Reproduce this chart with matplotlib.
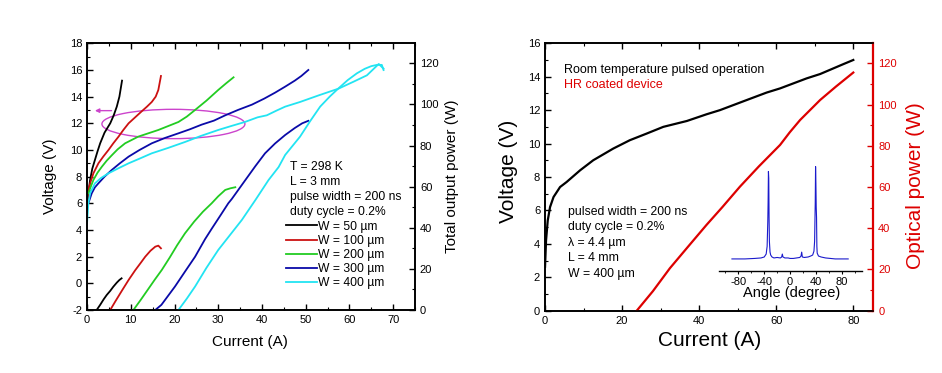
import matplotlib
matplotlib.use('Agg')
import matplotlib.pyplot as plt
from matplotlib.patches import Ellipse
from matplotlib.ticker import MultipleLocator

plt.rcParams['font.family'] = ['Liberation Sans', 'DejaVu Sans']
plt.rcParams['axes.unicode_minus'] = False

# ---------------- Left panel data ----------------
legend_labels = ['W = 50 µm', 'W = 100 µm', 'W = 200 µm', 'W = 300 µm', 'W = 400 µm']
colors = ['#000000', '#cc1111', '#22cc22', '#0a0aa8', '#22e4f2']

v50_i = [0.15, 0.4, 0.7, 1.2, 1.8, 2.4, 3.0, 4.0, 5.3, 6.1, 6.8, 7.4, 8.0]
v50_v = [6.0, 7.0, 7.75, 8.6, 9.25, 9.9, 10.5, 11.3, 12.0, 12.6, 13.25, 14.0, 15.2]
p50_i = [2.2, 3.0, 3.8, 4.5, 5.3, 6.0, 6.8, 7.4, 7.9]
p50_p = [0.0, 2.5, 5.2, 7.3, 9.3, 11.3, 13.3, 14.6, 15.4]

v100_i = [0.0, 0.3, 0.8, 1.45, 2.6, 3.7, 4.9, 6.0, 7.2, 8.3, 9.5, 11.0, 12.5, 13.7, 14.8, 15.7, 16.3, 16.9]
v100_v = [6.0, 7.0, 7.6, 8.25, 9.0, 9.5, 10.0, 10.5, 11.0, 11.5, 12.0, 12.45, 12.9, 13.25, 13.6, 14.0, 14.5, 15.55]
p100_i = [5.3, 6.5, 8.0, 9.5, 11.0, 12.3, 13.3, 14.5, 15.6, 16.3, 16.9]
p100_p = [0.0, 4.3, 9.5, 14.6, 19.3, 23.0, 25.9, 28.8, 30.8, 31.3, 30.0]

v200_i = [0.3, 0.8, 1.45, 2.4, 3.4, 4.5, 5.65, 7.0, 8.7, 10.2, 11.7, 14.0, 16.3, 18.6, 20.9, 22.8, 24.7, 27.3, 30.0, 31.8, 33.5]
v200_v = [6.75, 7.2, 7.75, 8.3, 8.75, 9.2, 9.6, 10.05, 10.5, 10.75, 11.0, 11.25, 11.5, 11.8, 12.1, 12.5, 13.0, 13.7, 14.5, 15.0, 15.45]
p200_i = [10.6, 12.3, 14.0, 15.5, 17.1, 18.9, 20.6, 22.4, 24.5, 26.5, 28.5, 30.0, 31.6, 32.8, 33.9]
p200_p = [0.0, 5.0, 10.2, 14.8, 19.5, 25.5, 31.5, 37.3, 43.0, 47.8, 51.9, 55.3, 58.4, 59.2, 59.7]

v300_i = [0.3, 1.07, 1.8, 2.6, 4.0, 5.65, 7.5, 9.5, 12.0, 14.8, 17.8, 20.9, 23.5, 26.2, 29.0, 31.6,
          34.5, 37.7, 40.5, 43.0, 45.3, 47.5, 49.0, 50.6]
v300_v = [6.0, 6.75, 7.2, 7.5, 8.0, 8.5, 9.0, 9.5, 10.0, 10.5, 10.9, 11.25, 11.55, 11.9, 12.2, 12.6,
          13.0, 13.4, 13.85, 14.3, 14.75, 15.2, 15.55, 16.0]
p300_i = [15.6, 17.0, 20.1, 22.5, 24.7, 27.0, 28.5, 30.5, 32.3, 33.1, 36.2, 38.5, 40.7, 43.0, 45.3, 47.5, 49.2, 50.6]
p300_p = [0.0, 2.5, 11.4, 19.0, 25.9, 34.5, 39.5, 46.0, 51.9, 54.0, 63.2, 70.0, 76.2, 81.0, 85.1, 88.5, 90.8, 92.0]

v400_i = [0.0, 0.3, 0.7, 1.2, 1.8, 3.2, 4.9, 7.0, 9.5, 12.0, 14.8, 18.5, 22.4, 26.0, 30.0, 33.0, 36.1,
          39.0, 41.1, 43.3, 45.3, 48.7, 53.0, 57.5, 60.8, 64.0, 66.7, 67.8]
v400_v = [4.5, 6.0, 6.75, 7.1, 7.5, 7.9, 8.25, 8.6, 9.0, 9.35, 9.75, 10.15, 10.6, 11.05, 11.5, 11.8, 12.1,
          12.45, 12.6, 12.95, 13.25, 13.6, 14.1, 14.6, 15.1, 15.6, 16.45, 16.1]
p400_i = [20.9, 22.8, 24.7, 27.3, 30.0, 32.7, 35.4, 38.5, 41.5, 43.8, 45.3, 48.7, 51.0, 53.3, 55.5, 57.5,
          59.6, 61.7, 63.5, 65.0, 66.3, 67.4, 67.8]
p400_p = [0.0, 5.5, 11.4, 20.5, 29.2, 36.5, 43.8, 53.5, 63.2, 69.5, 75.4, 84.3, 91.8, 98.9, 103.8, 107.8,
          111.8, 115.1, 117.3, 118.6, 119.2, 119.2, 116.7]

left_notes = ['T = 298 K', 'L = 3 mm', 'pulse width = 200 ns', 'duty cycle = 0.2%']

# ---------------- Right panel data ----------------
r_v_i = [0, 0.26, 0.7, 1.3, 2.2, 3.9, 5.6, 9.1, 12.5, 17.7, 22, 26.4, 30.7, 36.8, 41.9, 45.4, 52.3, 57.5,
         61.0, 67.9, 71.4, 77.4, 80]
r_v_v = [2.63, 4.2, 5.4, 6.2, 6.8, 7.4, 7.7, 8.4, 9.0, 9.7, 10.2, 10.6, 11.0, 11.35, 11.75, 12.0, 12.6, 13.05,
         13.3, 13.9, 14.16, 14.75, 15.0]
r_p_i = [23.8, 28.0, 32.4, 37.0, 41.9, 46.0, 50.6, 55.5, 61.0, 63.5, 66.2, 71.4, 75.5, 80.0]
r_p_p = [0.0, 9.5, 20.6, 30.8, 41.6, 50.2, 60.2, 70.0, 80.4, 86.5, 92.5, 102.2, 108.7, 115.5]

right_notes = ['pulsed width = 200 ns', 'duty cycle = 0.2%', 'λ = 4.4 µm', 'L = 4 mm', 'W = 400 µm']

# inset far-field profile
ang = [-90, -70, -55, -45, -40, -37, -35.5, -34.5, -34, -33.5, -33, -32.5, -32, -31, -30, -28, -25, -20, -15, -13,
       -12, -11, -8, -3, 0, 5, 10, 15, 17, 18, 19, 22, 28, 32, 35, 37, 38, 38.5, 39, 39.5,
       40, 40.5, 41, 41.5, 42, 44, 48, 55, 70, 90]
inten = [0.02, 0.02, 0.025, 0.03, 0.04, 0.07, 0.15, 0.40, 0.60, 0.92, 0.85, 0.45, 0.2, 0.09, 0.06, 0.04, 0.03, 0.035, 0.03, 0.04,
         0.07, 0.04, 0.03, 0.03, 0.025, 0.025, 0.03, 0.035, 0.05, 0.09, 0.04, 0.035, 0.04, 0.05, 0.06, 0.10, 0.20, 0.40, 0.60, 0.97,
         0.80, 0.55, 0.45, 0.15, 0.08, 0.05, 0.04, 0.03, 0.02, 0.02]

RED = '#dd0000'
TICK_FS = 8

fig = plt.figure(figsize=(9.42, 3.73), dpi=100)

def style_ticks(ax, **kw):
    ax.tick_params(which='both', direction='in', labelsize=TICK_FS, **kw)
    ax.tick_params(which='major', length=4, width=1)
    ax.tick_params(which='minor', length=2.2, width=0.8)

# ---------------- Left panel ----------------
axL = fig.add_axes([0.0924, 0.1689, 0.3482, 0.715])
axLp = axL.twinx()
v_sets = [(v50_i, v50_v), (v100_i, v100_v), (v200_i, v200_v), (v300_i, v300_v), (v400_i, v400_v)]
p_sets = [(p50_i, p50_p), (p100_i, p100_p), (p200_i, p200_p), (p300_i, p300_p), (p400_i, p400_p)]
handles = []
for (vi, vv), (pi, pp), c, lab in zip(v_sets, p_sets, colors, legend_labels):
    h, = axL.plot(vi, vv, color=c, lw=1.3, label=lab)
    axLp.plot(pi, pp, color=c, lw=1.3)
    handles.append(h)
axL.set_xlim(0, 75)
axL.set_ylim(-2, 18)
axLp.set_ylim(0, 129.7)
axL.xaxis.set_major_locator(MultipleLocator(10))
axL.xaxis.set_minor_locator(MultipleLocator(5))
axL.yaxis.set_major_locator(MultipleLocator(2))
axL.yaxis.set_minor_locator(MultipleLocator(1))
axLp.yaxis.set_major_locator(MultipleLocator(20))
axLp.yaxis.set_minor_locator(MultipleLocator(10))
style_ticks(axL, top=True)
style_ticks(axLp)
for a in (axL, axLp):
    for s in a.spines.values():
        s.set_linewidth(1.2)
axL.set_xlabel('Current (A)', fontsize=11, va='center')
axL.xaxis.set_label_coords(0.498, -0.119)
axL.set_ylabel('Voltage (V)', fontsize=11, va='center')
axL.yaxis.set_label_coords(-0.113, 0.5)
axLp.set_ylabel('Total output power (W)', fontsize=11, va='center')
axLp.yaxis.set_label_coords(1.112, 0.5)

axL.add_patch(Ellipse((19.75, 11.95), 32.7, 2.2, fill=False, edgecolor='#cc44cc', lw=1.0))
axL.annotate('', xy=(1.8, 12.95), xytext=(5.6, 12.95),
             arrowprops=dict(arrowstyle='-|>', color='#cc44cc', lw=1.0, mutation_scale=6, shrinkA=0, shrinkB=0))

for k, t in enumerate(left_notes):
    axL.text(46.3, 8.75 - k * 1.13, t, fontsize=8.7, va='center', ha='left')
axL.legend(handles=handles, loc='upper left', bbox_to_anchor=(0.608, 0.335), frameon=False,
           fontsize=8.7, handlelength=2.5, handletextpad=0.15, labelspacing=0.18, borderpad=0,
           borderaxespad=0)

# ---------------- Right panel ----------------
axR = fig.add_axes([0.5786, 0.167, 0.3485, 0.717])
axRp = axR.twinx()
axR.plot(r_v_i, r_v_v, color='black', lw=1.6)
axRp.plot(r_p_i, r_p_p, color=RED, lw=1.6)
axR.set_xlim(0, 85.2)
axR.set_ylim(0, 16)
axRp.set_ylim(0, 129.7)
axR.xaxis.set_major_locator(MultipleLocator(20))
axR.xaxis.set_minor_locator(MultipleLocator(10))
axR.yaxis.set_major_locator(MultipleLocator(2))
axR.yaxis.set_minor_locator(MultipleLocator(1))
axRp.yaxis.set_major_locator(MultipleLocator(20))
axRp.yaxis.set_minor_locator(MultipleLocator(10))
style_ticks(axR, top=True)
style_ticks(axRp, colors=RED)
for a in (axR, axRp):
    for s in a.spines.values():
        s.set_linewidth(1.2)
axRp.spines['right'].set_color(RED)
axRp.spines['right'].set_linewidth(1.6)
axR.set_xlabel('Current (A)', fontsize=15, va='center')
axR.xaxis.set_label_coords(0.5, -0.11)
axR.set_ylabel('Voltage (V)', fontsize=15, va='center')
axR.yaxis.set_label_coords(-0.112, 0.52)
axRp.set_ylabel('Optical power (W)', fontsize=15, va='center', color=RED)
axRp.yaxis.set_label_coords(1.127, 0.467)

axR.text(5.0, 14.4, 'Room temperature pulsed operation', fontsize=9, va='center', ha='left')
axR.text(5.0, 13.5, 'HR coated device', fontsize=9, va='center', ha='left', color=RED)
for k, t in enumerate(right_notes):
    axR.text(6.0, 5.9 - k * 0.92, t, fontsize=8.8, va='center', ha='left')

# inset
axI = fig.add_axes([0.7633, 0.2743, 0.1515, 0.2968])
axI.patch.set_alpha(0)
axI.plot(ang, inten, color='#1a1acc', lw=0.8)
axI.set_xlim(-110, 111)
axI.set_ylim(-0.101, 1.038)
for s in ('top', 'left', 'right'):
    axI.spines[s].set_visible(False)
axI.spines['bottom'].set_linewidth(1.0)
axI.set_yticks([])
axI.xaxis.set_major_locator(MultipleLocator(40))
axI.xaxis.set_minor_locator(MultipleLocator(20))
axI.tick_params(which='both', direction='out', labelsize=TICK_FS, pad=2)
axI.tick_params(which='major', length=2.5)
axI.tick_params(which='minor', length=1.5)
axI.set_xlabel('Angle (degree)', fontsize=10.5, va='center')
axI.xaxis.set_label_coords(0.507, -0.204)

fig.savefig('out.png', dpi=100)
